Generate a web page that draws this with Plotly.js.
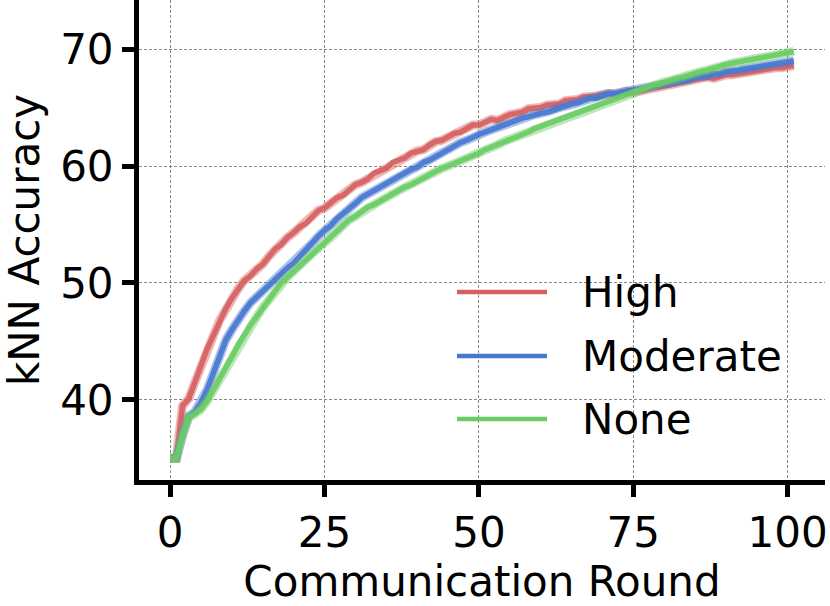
<!DOCTYPE html>
<html>
<head>
<meta charset="utf-8">
<script src="https://cdn.plot.ly/plotly-3.0.1.min.js"></script>
<style>html,body{margin:0;padding:0;background:#fff;}#chart{width:830px;height:606px;}</style>
</head>
<body>
<div id="chart"></div>
<script>
// Communication rounds
const rounds = Array.from({length: 102}, (_, i) => i);

const seriesNames = ["High", "Moderate", "None"];
const seriesColors = ["#d65f5f", "#4878d0", "#6acc64"];

const highAcc = [
35.0,35.0,39.5,40.1,41.5,43.0,44.4,45.5,46.8,47.8,
48.7,49.5,50.2,50.6,51.2,51.6,52.3,52.9,53.3,53.9,
54.3,54.8,55.1,55.7,56.2,56.4,56.8,57.3,57.5,57.9,
58.4,58.6,58.9,59.4,59.6,59.8,60.3,60.5,60.7,61.1,
61.3,61.4,61.8,62.1,62.2,62.5,62.8,62.9,63.2,63.5,
63.5,63.7,64.0,63.9,64.2,64.4,64.5,64.6,64.9,64.9,
65.0,65.2,65.3,65.3,65.6,65.6,65.7,65.9,65.9,66.0,
66.1,66.2,66.1,66.3,66.4,66.3,66.4,66.6,66.6,66.8,
66.8,67.0,67.1,67.1,67.3,67.3,67.4,67.6,67.5,67.7,
67.8,67.8,67.9,68.0,68.0,68.2,68.2,68.3,68.4,68.4,
68.5,68.6];

const moderateAcc = [
35.0,35.0,37.0,38.6,39.0,39.8,40.9,42.3,44.0,45.1,
46.0,46.9,47.6,48.3,48.8,49.3,49.9,50.3,50.8,51.3,
51.7,52.3,52.9,53.4,54.0,54.5,54.9,55.5,55.9,56.4,
56.8,57.3,57.6,57.9,58.3,58.5,58.8,59.2,59.4,59.7,
59.9,60.3,60.5,60.8,61.2,61.4,61.7,62.0,62.2,62.5,
62.7,62.9,63.1,63.3,63.6,63.7,63.9,64.1,64.2,64.4,
64.5,64.6,64.8,65.0,65.1,65.3,65.4,65.6,65.8,65.8,
66.0,66.2,66.2,66.3,66.3,66.4,66.5,66.6,66.7,66.8,
67.0,67.1,67.2,67.3,67.4,67.6,67.6,67.7,67.9,67.9,
68.1,68.1,68.2,68.3,68.4,68.5,68.6,68.7,68.8,68.8,
68.9,69.0];

const noneAcc = [
35.0,35.0,37.0,38.5,38.8,39.2,39.9,40.8,41.7,42.7,
43.7,44.7,45.6,46.4,47.1,47.9,48.6,49.3,50.0,50.5,
51.0,51.4,52.0,52.5,52.9,53.5,53.9,54.4,55.0,55.4,
55.7,56.1,56.5,56.7,57.0,57.4,57.6,57.9,58.2,58.4,
58.7,59.0,59.3,59.5,59.8,60.0,60.2,60.5,60.7,60.9,
61.1,61.4,61.6,61.8,62.1,62.3,62.5,62.7,62.9,63.2,
63.4,63.6,63.8,64.0,64.2,64.4,64.6,64.8,65.0,65.2,
65.4,65.6,65.8,66.0,66.1,66.3,66.5,66.7,66.9,67.0,
67.2,67.3,67.5,67.6,67.8,67.9,68.1,68.2,68.4,68.5,
68.7,68.8,68.9,69.0,69.1,69.2,69.3,69.4,69.5,69.6,
69.7,69.8];

const xTicks = [0, 25, 50, 75, 100];
const yTicks = [40, 50, 60, 70];
const xLabel = "Communication Round";
const yLabel = "kNN Accuracy";

const allSeries = [highAcc, moderateAcc, noneAcc];
const FONT = "DejaVu Sans, Liberation Sans, sans-serif";

const traces = [];
allSeries.forEach((ys, i) => {
  traces.push({x: rounds, y: ys, type: "scatter", mode: "lines", name: seriesNames[i],
    line: {color: seriesColors[i], width: 9}, opacity: 0.45,
    showlegend: false, hoverinfo: "skip"});
  traces.push({x: rounds, y: ys, type: "scatter", mode: "lines", name: seriesNames[i],
    line: {color: seriesColors[i], width: 5.5}, opacity: 0.92, showlegend: false});
});

// custom legend (paper coords of the plot area)
const L = 139, R = 5, T = 0, B = 126, W = 830, H = 606;
const pw = W - L - R, ph = H - T - B;
const px2x = p => (p - L) / pw;
const py2y = p => (ph - (p - T)) / ph;
const legendRows = [292, 356, 419];
const shapes = [], annotations = [];
seriesNames.forEach((n, i) => {
  shapes.push({type: "line", xref: "paper", yref: "paper",
    x0: px2x(457), x1: px2x(547), y0: py2y(legendRows[i]), y1: py2y(legendRows[i]),
    line: {color: seriesColors[i], width: 4.5}});
  annotations.push({xref: "paper", yref: "paper", x: px2x(580), y: py2y(legendRows[i]),
    xanchor: "left", yanchor: "middle", text: n, showarrow: false,
    font: {family: FONT, size: 42, color: "#000"}});
});

const axisCommon = {
  showline: true, linewidth: 5, linecolor: "#000", mirror: false,
  ticks: "outside", ticklen: 12, tickwidth: 5, tickcolor: "#000",
  showgrid: true, gridcolor: "#555555", griddash: "3px,2px", gridwidth: 0.7,
  zeroline: false, tickfont: {family: FONT, size: 42, color: "#000"}
};

const layout = {
  width: W, height: H,
  margin: {l: L, r: R, t: T, b: B, pad: 0},
  paper_bgcolor: "#fff", plot_bgcolor: "#fff",
  showlegend: false,
  xaxis: Object.assign({}, axisCommon, {range: [-5.05, 106.05], tickvals: xTicks,
    title: {text: xLabel, font: {family: FONT, size: 42, color: "#000"}, standoff: 6}}),
  yaxis: Object.assign({}, axisCommon, {range: [33.15, 74.2], tickvals: yTicks,
    title: {text: yLabel, font: {family: FONT, size: 42, color: "#000"}, standoff: 14}}),
  shapes: shapes, annotations: annotations
};

Plotly.newPlot("chart", traces, layout, {displayModeBar: false, staticPlot: true});
</script>
</body>
</html>
